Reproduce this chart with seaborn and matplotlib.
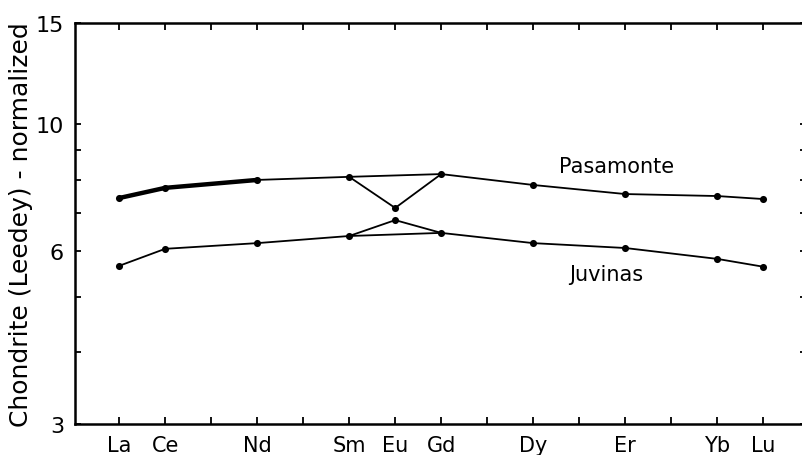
import numpy as np
import pandas as pd
import matplotlib
matplotlib.use("Agg")
import matplotlib.pyplot as plt
import seaborn as sns
from matplotlib.ticker import FixedLocator, NullFormatter, FixedFormatter

# ---- data ----
elements = ["La", "Ce", "Nd", "Sm", "Eu", "Gd", "Dy", "Er", "Yb", "Lu"]
atomic_numbers = [57, 58, 60, 62, 63, 64, 66, 68, 70, 71]
pasamonte = [7.43, 7.74, 7.99, 8.09, 7.14, 8.18, 7.83, 7.55, 7.49, 7.40]
juvinas = [5.66, 6.06, 6.20, 6.38, 6.80, 6.46, 6.20, 6.08, 5.82, 5.64]
all_positions = list(range(57, 72))
y_major = [3, 6, 10, 15]
y_minor = [4, 5, 7, 8, 9]

df = pd.DataFrame({"element": elements * 2,
                   "z": atomic_numbers * 2,
                   "value": pasamonte + juvinas,
                   "sample": ["Pasamonte"] * len(elements) + ["Juvinas"] * len(elements)})

sns.set_theme(style="white")
plt.rcParams['font.family'] = ['DejaVu Sans']
plt.rcParams['text.color'] = 'black'
plt.rcParams['axes.labelcolor'] = 'black'
plt.rcParams['xtick.color'] = 'black'
plt.rcParams['ytick.color'] = 'black'

fig = plt.figure(figsize=(8.03, 4.56), dpi=100)
ax = fig.add_axes([75 / 803, 1 - 425 / 456, (806 - 75) / 803, (425 - 24) / 456])

main = df[df["element"] != "Eu"]
loop = df[df["element"].isin(["Sm", "Eu", "Gd"])]
light = df[df["element"].isin(["La", "Ce", "Nd"]) & (df["sample"] == "Pasamonte")]

for s in ["Pasamonte", "Juvinas"]:
    sns.lineplot(data=main[main["sample"] == s], x="z", y="value", color="black",
                 lw=1.3, ax=ax, sort=True, estimator=None)
    sns.lineplot(data=loop[loop["sample"] == s], x="z", y="value", color="black",
                 lw=1.3, ax=ax, sort=True, estimator=None)
sns.lineplot(data=light, x="z", y="value", color="black", lw=3.2, ax=ax,
             sort=True, estimator=None)
sns.scatterplot(data=df, x="z", y="value", color="black", s=26, ax=ax,
                edgecolor="black", linewidth=0, zorder=5)

ax.set_yscale("log")
ax.set_ylim(3, 15)
ax.set_xlim(56.04, 71.93)

ax.yaxis.set_major_locator(FixedLocator(y_major))
ax.yaxis.set_major_formatter(FixedFormatter([str(v) for v in y_major]))
ax.yaxis.set_minor_locator(FixedLocator(y_minor))
ax.yaxis.set_minor_formatter(NullFormatter())

ax.xaxis.set_major_locator(FixedLocator(all_positions))
labels = []
for p in all_positions:
    labels.append(elements[atomic_numbers.index(p)] if p in atomic_numbers else "")
ax.xaxis.set_major_formatter(FixedFormatter(labels))

for side in ["left", "top", "bottom"]:
    ax.spines[side].set_visible(True)
    ax.spines[side].set_color("black")
    ax.spines[side].set_linewidth(1.8)
ax.spines["right"].set_visible(False)

ax.tick_params(axis="x", which="major", direction="in", top=True, bottom=True,
               length=5, width=1.3, labelsize=15, pad=8, color="black",
               labelcolor="black")
ax.tick_params(axis="y", which="both", direction="in", left=True, right=True,
               length=4, width=1.3, labelsize=16, pad=8, color="black",
               labelcolor="black")

ax.set_xlabel("")
ax.set_ylabel("Chondrite (Leedey) - normalized", fontsize=18, labelpad=2,
              color="black")

ax.text(67.82, 8.45, "Pasamonte", fontsize=15, ha="center", va="center", color="black")
ax.text(67.58, 5.48, "Juvinas", fontsize=15, ha="center", va="center", color="black")

fig.savefig("out.png", dpi=100)
